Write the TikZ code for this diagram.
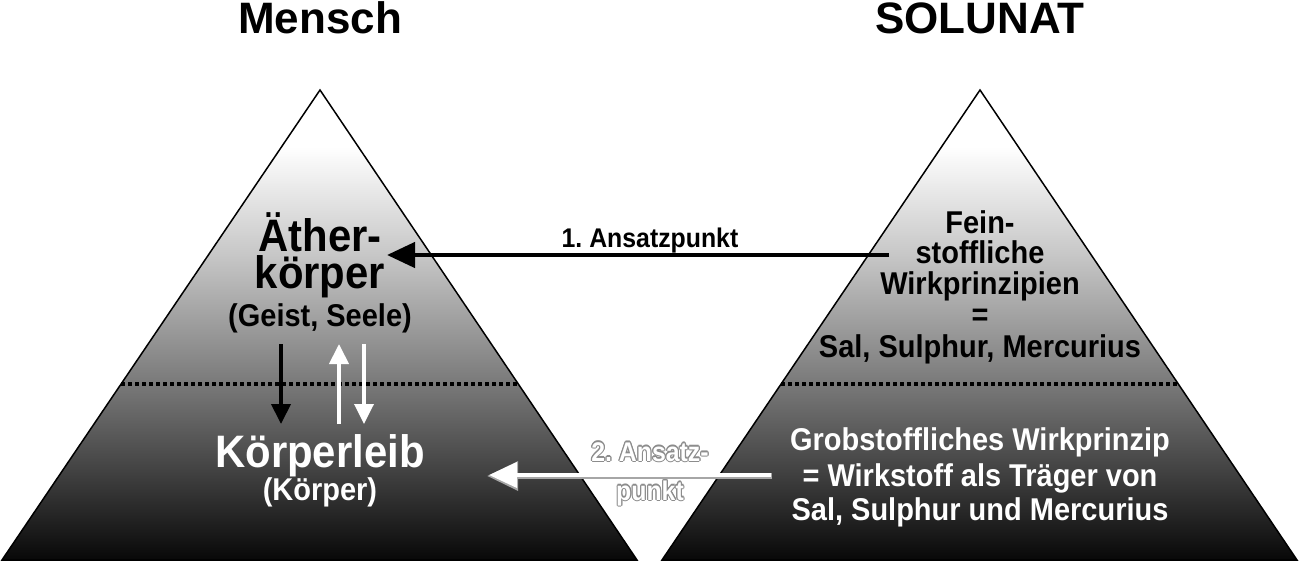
\documentclass[tikz,border=0pt]{standalone}
\usepackage{fontspec}
\setmainfont{Liberation Sans}
\newfontfamily\narrowfont{Liberation Sans}[FakeStretch=0.92]
\usepackage{contour}
\contourlength{1.1pt}
\contournumber{12}
\usetikzlibrary{arrows.meta}
\definecolor{sA}{gray}{0.03}
\definecolor{sB}{gray}{0.27}
\definecolor{sC}{gray}{0.48}
\definecolor{sD}{gray}{0.78}
\definecolor{glow}{gray}{0.55}
\definecolor{shadowgray}{gray}{0.65}
\pgfdeclareverticalshading{pyramid}{100bp}{color(0bp)=(sA); color(25bp)=(sA); color(35bp)=(sB); color(44bp)=(sC); color(57.5bp)=(sD); color(69bp)=(white); color(100bp)=(white)}
\frenchspacing
\begin{document}
\begin{tikzpicture}[x=1pt,y=-1pt,
  pyr/.style={shade, shading=pyramid, draw=black, line width=1.5pt},
  dotline/.style={line width=3.5pt, dash pattern=on 4pt off 3pt},
  title/.style={font=\fontsize{44}{50}\selectfont\bfseries, anchor=base, inner sep=0},
  bigtxt/.style={font=\narrowfont\fontsize{45.5}{37}\selectfont\bfseries, anchor=base, inner sep=0, align=center},
  midtxt/.style={font=\narrowfont\fontsize{31.5}{36}\selectfont\bfseries, anchor=base, inner sep=0},
  smalltxt/.style={font=\narrowfont\fontsize{27}{31}\selectfont\bfseries, anchor=base, inner sep=0},
  bigarrow/.style={line width=4.5pt, -{Triangle[length=28pt,width=25pt]}},
  smallarrow/.style={line width=4pt, -{Triangle[length=20pt,width=19pt]}}
]
\useasboundingbox (0,0) rectangle (1299,562);
% pyramids
\shade[pyr] (320,90) -- (637,560) -- (2,560) -- cycle;
\shade[pyr] (980,90) -- (1297,560) -- (662,560) -- cycle;
\draw[dotline] (121,384) -- (518,384);
\draw[dotline] (781,384) -- (1179,384);
% titles
\node[title] (mensch) at (320,34) {Mensch};
\node[title] (solunat) at (980,34) {SOLUNAT};
% left texts
\node[bigtxt] (aether) at (320,288) {Äther-\\körper};
\node[midtxt] (geist) at (320,326) {(Geist, Seele)};
\node[bigtxt, text=white] (koerperleib) at (320,467) {Körperleib};
\node[midtxt, text=white] (koerper) at (320,500) {(Körper)};
% right texts
\node[midtxt] (fein1) at (980,233) {Fein-};
\node[midtxt] (fein2) at (980,263) {stoffliche};
\node[midtxt] (fein3) at (980,294) {Wirkprinzipien};
\node[midtxt] (fein4) at (980,325) {=};
\node[midtxt] (fein5) at (980,357) {Sal, Sulphur, Mercurius};
\node[midtxt, text=white] (grob1) at (980,450) {Grobstoffliches Wirkprinzip};
\node[midtxt, text=white] (grob2) at (980,486) {= Wirkstoff als Träger von};
\node[midtxt, text=white] (grob3) at (980,520) {Sal, Sulphur und Mercurius};
% arrow labels
\node[smalltxt] (lab1) at (650,247) {1. Ansatzpunkt};
\node[smalltxt, text=white] (lab2a) at (650,461) {\contour{glow}{2. Ansatz-}};
\node[smalltxt, text=white] (lab2b) at (650,500) {\contour{glow}{punkt}};
% connectors
\coordinate (a1s) at (889,255);
\coordinate (a1e) at (387,255);
\coordinate (a2s) at (771,475);
\coordinate (a2e) at (489,475);
\coordinate (a2shs) at (772,476);
\coordinate (a2she) at (487,476);
\draw[bigarrow] (a1s) -- (a1e);
\draw[shadowgray, line width=6pt, -{Triangle[length=31pt,width=28pt]}] (a2shs) -- (a2she);
\draw[bigarrow, white, line width=4pt] (a2s) -- (a2e);
\coordinate (d1s) at (281,344);
\coordinate (d1e) at (281,424);
\coordinate (u1s) at (339,424);
\coordinate (u1e) at (339,344);
\coordinate (d2s) at (364,344);
\coordinate (d2e) at (364,424);
\draw[smallarrow] (d1s) -- (d1e);
\draw[smallarrow, white] (u1s) -- (u1e);
\draw[smallarrow, white, line width=3.5pt] (d2s) -- (d2e);
\end{tikzpicture}
\end{document}
